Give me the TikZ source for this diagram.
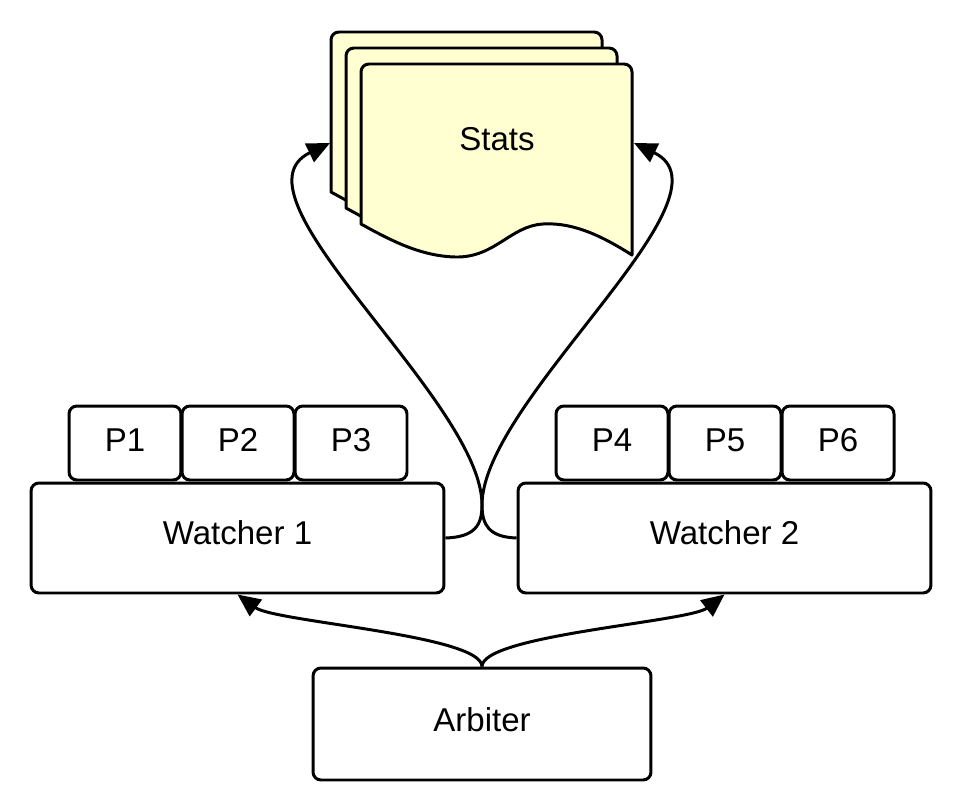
\documentclass[tikz,border=0pt]{standalone}
\usepackage{fontspec}
\setmainfont{Liberation Sans}
\usepackage{xcolor}
\usepackage{tikz}
\usetikzlibrary{
  arrows.meta,
  positioning
}
\definecolor{statsfill}{HTML}{FFFFD2}
\newcommand{\boxfont}{\fontsize{18.8pt}{22pt}\selectfont}

\begin{document}
\begin{tikzpicture}[
  x=0.02cm, y=-0.02cm,
  line width=1.7pt,
  watcher/.style={draw, rounded corners=4.5pt, minimum width=8.26cm,
                  minimum height=2.2cm, text height=0.475cm,
                  text depth=0.2cm, font=\boxfont},
  proc/.style={draw, rounded corners=4.5pt, minimum width=2.24cm,
               minimum height=1.48cm, text height=0.475cm,
               text depth=0.12cm, font=\boxfont},
  arbiter/.style={draw, rounded corners=4.5pt, minimum width=6.76cm,
                  minimum height=2.24cm, text height=0.475cm,
                  text depth=0.16cm, font=\boxfont},
  page/.style={draw, fill=statsfill, line join=round},
  link/.style={-{Triangle[length=13pt,width=11.5pt]}},
]
  \useasboundingbox (0,0) rectangle (962,808);

  % Stats: three stacked pages, back one first
  \foreach \d in {2,1,0} {
    \path[page, shift={(-15*\d,-16*\d)}]
      (361,224) [rounded corners=4.5pt] -- (361,64) -- (632,64)
      [sharp corners] -- (632,255)
      .. controls (605,238) and (575,222) .. (543,224)
      .. controls (510,226) and (495,258) .. (455,257)
      .. controls (420,256) and (390,240) .. (361,224) -- cycle;
  }
  \node[font=\boxfont] (stats) at (497,139) {Stats};
  \coordinate (statsl) at (330,143);
  \coordinate (statsr) at (634,143);

  % Watchers and their processes
  \node[watcher] (w1) at (237.5,538) {Watcher 1};
  \node[watcher] (w2) at (724.5,538) {Watcher 2};
  \foreach \i/\x in {1/125,2/238,3/351,4/612,5/725,6/838} {
    \node[proc] (p\i) at (\x,443) {P\i};
  }

  % Arbiter
  \node[arbiter] (arb) at (482,724) {Arbiter};

  % Watchers report to stats
  \coordinate (kiss) at (482,505);
  \draw[link] (w1.east) .. controls (475,537) and (482,525) .. (kiss)
    .. controls (482,400) and (222,195) .. (statsl);
  \draw[link] (w2.west) .. controls (489,537) and (482,525) .. (kiss)
    .. controls (482,400) and (742,195) .. (statsr);

  % Arbiter drives the watchers
  \draw[link] (arb.north) .. controls (482,635) and (275,622) .. (w1.south);
  \draw[link] (arb.north) .. controls (482,635) and (689,622) .. (w2.south);

\end{tikzpicture}
\end{document}
